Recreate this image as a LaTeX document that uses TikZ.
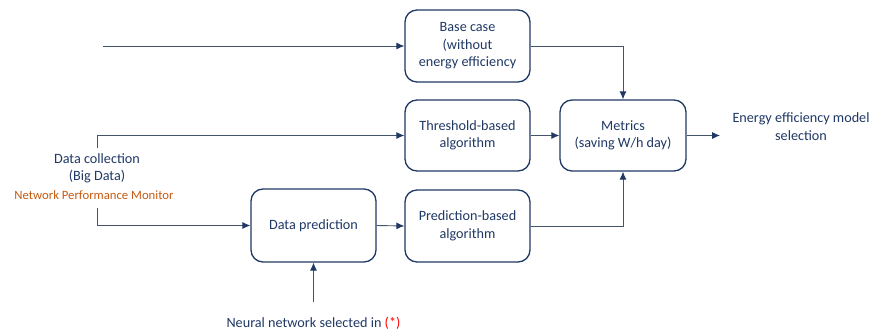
\documentclass[tikz,border=0pt]{standalone}
\usepackage{fontspec}
\setmainfont{Carlito}
\usetikzlibrary{arrows.meta}
\definecolor{navy}{HTML}{1F3864}
\definecolor{lineC}{HTML}{44546A}
\definecolor{orangeC}{HTML}{C55A11}
\definecolor{redC}{HTML}{FF0000}
\begin{document}
\begin{tikzpicture}[x=1pt,y=-1pt,
  box/.style={draw=navy, line width=1.3pt, rounded corners=12pt, minimum width=125pt, minimum height=72pt, align=center, text=navy, font=\fontsize{14.2}{17.5}\selectfont, inner sep=2pt},
  lbl/.style={align=center, text=navy, font=\fontsize{14.2}{17.5}\selectfont},
  conn/.style={draw=lineC, line width=0.9pt, -{Latex[length=8pt,width=7pt,color=navy]}}]
\useasboundingbox (0,0) rectangle (873,334);
\node[box] (base) at (467.5,46) {Base case\\(without\\energy efficiency};
\node[box, minimum height=71pt] (thr) at (467.5,135.5) {Threshold-based\\algorithm};
\node[box] (pred) at (467.5,226) {Prediction-based\\algorithm};
\node[box, minimum height=73pt] (dp) at (313.5,225.5) {Data prediction};
\node[box, minimum width=126pt, minimum height=71pt] (met) at (623,135.5) {Metrics\\(saving W/h day)};
\node[lbl, anchor=west] (out) at (729,126.5) {Energy efficiency model\\selection};
\node[lbl] (dc) at (97,168.5) {Data collection\\(Big Data)};
\node[text=orangeC, font=\fontsize{12.7}{14}\selectfont] (npm) at (94,195) {Network Performance Monitor};
\node[text=navy, font=\fontsize{14.2}{16}\selectfont] (nn) at (313.5,323) {Neural network selected in \textcolor{redC}{(*)}};
\coordinate (topstart) at (103,46);
\coordinate (thrstart) at (97,148);
\coordinate (dpstart) at (97,208);
\coordinate (nnstart) at (313.5,302);
\draw[conn] (topstart) -- (base.west);
\draw[conn] (thrstart) |- (thr.west);
\draw[conn] (dpstart) |- (dp.west);
\draw[conn] (nnstart) -- (dp.south);
\draw[conn] (dp.east) -- (pred.west);
\draw[conn] (thr.east) -- (met.west);
\draw[conn] (base.east) -| (met.north);
\draw[conn] (pred.east) -| (met.south);
\draw[conn] (met.east) -- (720,135.5);
\end{tikzpicture}
\end{document}
